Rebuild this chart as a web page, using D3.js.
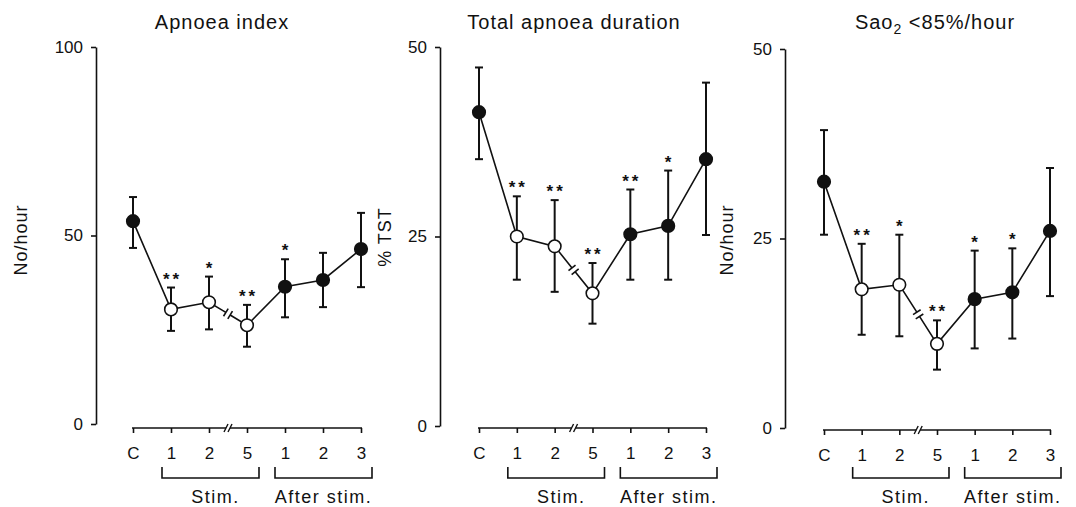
<html>
  <head>
    <meta charset="UTF-8">
    <style>
      body { margin: 0; background: #fff; }
      text { font-family: "Liberation Sans", Arial, sans-serif; fill: #111; }
    </style>
  </head>
  <body>
    <script src="https://cdn.jsdelivr.net/npm/d3@7"></script>
    <script>

// data
var xLabels = ["C", "1", "2", "5", "1", "2", "3"];
var filled  = [true, false, false, false, true, true, true];

var apnoeaMean  = [53.8, 30.4, 32.3, 26.2, 36.4, 38.2, 46.4];
var apnoeaHigh  = [60.2, 36.2, 39.1, 31.6, 43.7, 45.4, 56.0];
var apnoeaLow   = [46.7, 24.7, 25.1, 20.5, 28.3, 31.0, 36.3];
var apnoeaStars = ["", "**", "*", "**", "*", "", ""];

var durationMean  = [41.4, 25.0, 23.7, 17.5, 25.3, 26.4, 35.2];
var durationHigh  = [47.3, 30.3, 29.8, 21.5, 31.2, 33.7, 45.3];
var durationLow   = [35.2, 19.3, 17.7, 13.5, 19.3, 19.3, 25.2];
var durationStars = ["", "**", "**", "**", "**", "*", ""];

var saoMean  = [32.5, 18.3, 18.9, 11.1, 17.0, 17.9, 26.0];
var saoHigh  = [39.3, 24.3, 25.5, 14.2, 23.4, 23.7, 34.3];
var saoLow   = [25.5, 12.3, 12.1, 7.7, 10.5, 11.8, 17.4];
var saoStars = ["", "**", "*", "**", "*", "*", ""];

var panels = [
  { title: "Apnoea index", yLabel: "No/hour", yMax: 100, yTicks: [0, 50, 100],
    mean: apnoeaMean, high: apnoeaHigh, low: apnoeaLow, stars: apnoeaStars,
    axisX: 96, yRange: [424, 47], xRange: [133, 361], xAxisY: 428,
    titleX: 222, labelX: 27, labelY: 240 },
  { title: "Total apnoea duration", yLabel: "% TST", yMax: 50, yTicks: [0, 25, 50],
    mean: durationMean, high: durationHigh, low: durationLow, stars: durationStars,
    axisX: 440, yRange: [426, 47], xRange: [479, 706], xAxisY: 428,
    titleX: 574, labelX: 391, labelY: 237 },
  { title: "Sao", sub: "2", titleRest: " <85%/hour", yLabel: "No/hour", yMax: 50, yTicks: [0, 25, 50],
    mean: saoMean, high: saoHigh, low: saoLow, stars: saoStars,
    axisX: 785, yRange: [428, 49], xRange: [824, 1050], xAxisY: 430,
    titleX: 935, labelX: 733, labelY: 240 }
];

var width = 1076, height = 507;

var svg = d3.select("body").append("svg")
    .attr("width", width).attr("height", height);

panels.forEach(drawPanel);

function drawPanel(p) {
    var g = svg.append("g");
    var y = d3.scaleLinear().domain([0, p.yMax]).range(p.yRange);
    var x = d3.scaleLinear().domain([0, 6]).range(p.xRange);

    // title
    var t = g.append("text")
        .attr("x", p.titleX).attr("y", 29)
        .attr("text-anchor", "middle")
        .style("font-size", "20px")
        .style("letter-spacing", "1px")
        .text(p.title);
    if (p.sub) {
        t.append("tspan").attr("dy", 5).style("font-size", "14px").text(p.sub);
        t.append("tspan").attr("dy", -5).text(p.titleRest);
    }

    // y label
    g.append("text")
        .attr("transform", "translate(" + p.labelX + "," + p.labelY + ") rotate(-90)")
        .attr("text-anchor", "middle")
        .style("font-size", "18px")
        .style("letter-spacing", "1px")
        .text(p.yLabel);

    // y axis
    var ya = g.append("g")
        .attr("transform", "translate(" + p.axisX + ",0)")
        .call(d3.axisLeft(y).tickValues(p.yTicks).tickSize(5).tickSizeOuter(0).tickPadding(8));
    ya.selectAll("path, line").attr("stroke", "#111").attr("stroke-width", 1.6);
    ya.selectAll("text").style("font-size", "17px").attr("fill", "#111")
        .style("font-family", "'Liberation Sans', Arial, sans-serif");

    // x axis (ticks only, domain drawn in two parts with a break)
    var xa = g.append("g")
        .attr("transform", "translate(0," + p.xAxisY + ")")
        .call(d3.axisBottom(x).tickValues(d3.range(7)).tickSize(5).tickSizeOuter(0).tickPadding(14)
            .tickFormat(function(d) { return xLabels[d]; }));
    xa.select(".domain").remove();
    xa.selectAll("line").attr("stroke", "#111").attr("stroke-width", 1.6);
    xa.selectAll("text").style("font-size", "17px").attr("fill", "#111")
        .style("font-family", "'Liberation Sans', Arial, sans-serif");

    var bx = x(2.5);
    xa.append("line").attr("x1", x(0) - 1).attr("x2", bx - 2).attr("y1", 0).attr("y2", 0)
        .attr("stroke", "#111").attr("stroke-width", 1.6);
    xa.append("line").attr("x1", bx + 2).attr("x2", x(6) + 1).attr("y1", 0).attr("y2", 0)
        .attr("stroke", "#111").attr("stroke-width", 1.6);
    [-2, 2].forEach(function(o) {
        xa.append("line")
            .attr("x1", bx + o - 2).attr("y1", 4).attr("x2", bx + o + 2).attr("y2", -4)
            .attr("stroke", "#111").attr("stroke-width", 1.4);
    });

    // brackets
    var brackets = [
        { label: "Stim.", x1: x(1) - 9, x2: x(3) + 12, shift: 5 },
        { label: "After stim.", x1: x(4) - 10, x2: x(6) + 11, shift: 0 }
    ];
    brackets.forEach(function(b) {
        g.append("path")
            .attr("d", "M" + b.x1 + ",467 V478 H" + b.x2 + " V467")
            .attr("fill", "none").attr("stroke", "#111").attr("stroke-width", 1.6);
        g.append("text")
            .attr("x", (b.x1 + b.x2) / 2 + b.shift).attr("y", 503)
            .attr("text-anchor", "middle")
            .style("font-size", "18px")
            .style("letter-spacing", "1.5px")
            .text(b.label);
    });

    // connecting line, with a break between stim 2 and stim 5
    var pts = p.mean.map(function(v, i) { return [x(i), y(v)]; });
    var line = d3.line();
    var a = pts[2], c = pts[3];
    var dx = c[0] - a[0], dy = c[1] - a[1], len = Math.sqrt(dx * dx + dy * dy);
    var ux = dx / len, uy = dy / len;
    var mx = (a[0] + c[0]) / 2, my = (a[1] + c[1]) / 2;
    var gap = 2.5;
    var pA = [mx - ux * gap, my - uy * gap], pB = [mx + ux * gap, my + uy * gap];

    g.append("path").attr("d", line(pts.slice(0, 3).concat([pA])))
        .attr("fill", "none").attr("stroke", "#111").attr("stroke-width", 1.6);
    g.append("path").attr("d", line([pB].concat(pts.slice(3))))
        .attr("fill", "none").attr("stroke", "#111").attr("stroke-width", 1.6);
    [pA, pB].forEach(function(q) {
        g.append("line")
            .attr("x1", q[0] - uy * 4.5).attr("y1", q[1] + ux * 4.5)
            .attr("x2", q[0] + uy * 4.5).attr("y2", q[1] - ux * 4.5)
            .attr("stroke", "#111").attr("stroke-width", 1.6);
    });

    // error bars
    var eb = g.selectAll(".eb").data(p.mean).enter().append("g");
    eb.append("line")
        .attr("x1", function(d, i) { return x(i); }).attr("x2", function(d, i) { return x(i); })
        .attr("y1", function(d, i) { return y(p.high[i]); })
        .attr("y2", function(d, i) { return y(p.low[i]); })
        .attr("stroke", "#111").attr("stroke-width", 2);
    eb.append("line")
        .attr("x1", function(d, i) { return x(i) - 4; }).attr("x2", function(d, i) { return x(i) + 4; })
        .attr("y1", function(d, i) { return y(p.high[i]); })
        .attr("y2", function(d, i) { return y(p.high[i]); })
        .attr("stroke", "#111").attr("stroke-width", 2);
    eb.append("line")
        .attr("x1", function(d, i) { return x(i) - 4; }).attr("x2", function(d, i) { return x(i) + 4; })
        .attr("y1", function(d, i) { return y(p.low[i]); })
        .attr("y2", function(d, i) { return y(p.low[i]); })
        .attr("stroke", "#111").attr("stroke-width", 2);

    // markers
    g.selectAll(".pt").data(p.mean).enter().append("circle")
        .attr("cx", function(d, i) { return x(i); })
        .attr("cy", function(d) { return y(d); })
        .attr("r", 6.3)
        .attr("fill", function(d, i) { return filled[i] ? "#111" : "#fff"; })
        .attr("stroke", "#111").attr("stroke-width", 1.6);

    // significance stars
    g.selectAll(".star").data(p.stars).enter().append("text")
        .attr("x", function(d, i) { return x(i); })
        .attr("dx", 1.5)
        .attr("y", function(d, i) { return y(p.high[i]) - 3; })
        .attr("text-anchor", "middle")
        .style("font-size", "17px")
        .style("font-weight", "bold")
        .style("letter-spacing", "3px")
        .text(function(d) { return d; });
}

    </script>
  </body>
</html>
